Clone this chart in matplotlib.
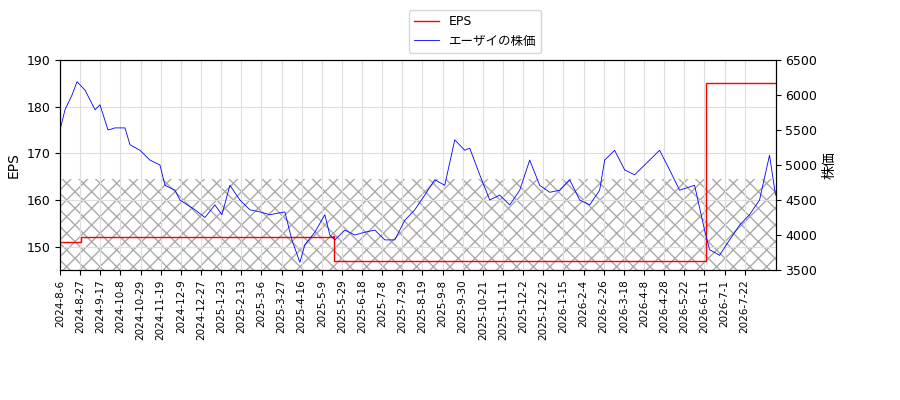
import matplotlib.pyplot as plt
import numpy as np

plt.rcParams['font.family'] = ['DejaVu Sans', 'Noto Sans CJK JP']

tick_labels = ['2024-8-6', '2024-8-27', '2024-9-17', '2024-10-8', '2024-10-29', '2024-11-19',
               '2024-12-9', '2024-12-27', '2025-1-23', '2025-2-13', '2025-3-6', '2025-3-27',
               '2025-4-16', '2025-5-9', '2025-5-29', '2025-6-18', '2025-7-8', '2025-7-29',
               '2025-8-19', '2025-9-8', '2025-9-30', '2025-10-21', '2025-11-11', '2025-12-2',
               '2025-12-22', '2026-1-15', '2026-2-4', '2026-2-26', '2026-3-18', '2026-4-8',
               '2026-4-28', '2026-5-22', '2026-6-11', '2026-7-1', '2026-7-22']

# EPS steps (x in chart position units)
eps_x = [0, 21, 273, 274, 645, 646, 716]
eps_values = [151.0, 152.0, 152.3, 147.0, 147.0, 185.0, 185.0]

# stock price (yen)
price_x = [0, 5, 12, 17, 25, 35, 40, 48, 55, 65, 70, 80, 90, 100, 105, 115, 120, 135, 145, 155,
           162, 170, 180, 190, 200, 210, 225, 232, 240, 245, 255, 265, 270, 275, 285, 295, 305, 315,
           325, 335, 345, 355, 365, 375, 385, 395, 405, 410, 420, 430, 440, 450, 460, 470, 480, 490,
           500, 510, 520, 530, 540, 545, 555, 565, 575, 585, 595, 600, 610, 620, 635, 645, 650, 660,
           670, 680, 690, 700, 710, 716]
price_values = [5500, 5790, 6000, 6190, 6070, 5790, 5860, 5500, 5530, 5530, 5290, 5210, 5070, 5000,
                4710, 4640, 4500, 4360, 4250, 4430, 4290, 4710, 4500, 4360, 4330, 4290, 4330, 3930,
                3610, 3860, 4040, 4290, 4000, 3930, 4070, 4000, 4040, 4070, 3930, 3930, 4210, 4360,
                4570, 4790, 4710, 5360, 5210, 5240, 4860, 4500, 4570, 4430, 4640, 5070, 4710, 4610,
                4640, 4790, 4500, 4430, 4640, 5070, 5210, 4930, 4860, 5000, 5140, 5210, 4930, 4640,
                4710, 4070, 3790, 3710, 3930, 4140, 4290, 4500, 5140, 4570]

fig = plt.figure(figsize=(9, 4), dpi=100)
ax1 = fig.add_axes([0.0667, 0.325, 0.795, 0.525])
ax2 = ax1.twinx()

l1, = ax1.step(eps_x, eps_values, where='post', color='red', lw=1, label='EPS')
l2, = ax2.plot(price_x, price_values, color='blue', lw=0.6, label='エーザイの株価')

ax1.fill_between([0, 716], 145, 164.5, facecolor='none', edgecolor='#aaaaaa', hatch='xx', lw=0)

ax1.set_ylim(145, 190)
ax2.set_ylim(3500, 6500)
ax1.set_xlim(0, 716)
ax1.set_ylabel('EPS')
ax2.set_ylabel('株価', family=['Noto Sans CJK JP'])

ax1.set_xticks(np.arange(len(tick_labels)) * 20.15)
ax1.set_xticklabels(tick_labels, rotation=90, fontsize=7.5)
ax1.tick_params(axis='y', labelsize=9)
ax2.tick_params(axis='y', labelsize=9)
ax1.grid(True, color='#dddddd')

fig.legend(handles=[l1, l2], loc='upper center', bbox_to_anchor=(0.528, 0.99), fontsize=9,
           prop={'family': ['DejaVu Sans', 'Noto Sans CJK JP'], 'size': 9})
fig.savefig('out.png')
